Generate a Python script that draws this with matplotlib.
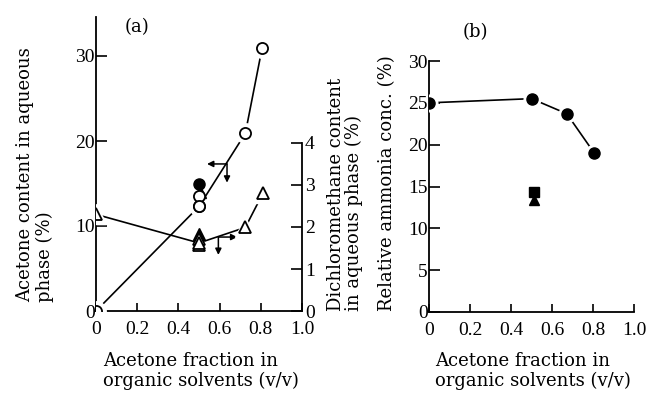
import matplotlib
matplotlib.use("Agg")
import matplotlib.pyplot as plt

# panel (a): acetone content (left axis, %)
ace_line_x = [0.0, 0.5, 0.725, 0.806]
ace_line_y = [0.0, 12.3, 20.9, 30.9]
ace_open_x = [0.5]
ace_open_y = [13.5]
ace_fill_x = [0.5]
ace_fill_y = [15.0]
ace_tri_fill_x = [0.505]
ace_tri_fill_y = [14.0]

# panel (a): dichloromethane content (right axis, %)
dcm_line_x = [0.0, 0.5, 0.725, 0.81]
dcm_line_y = [2.3, 1.62, 1.99, 2.8]
dcm_open_x = [0.5, 0.5]
dcm_open_y = [1.56, 1.72]
dcm_fill_x = [0.5]
dcm_fill_y = [1.83]

# panel (b): relative ammonia conc. (%)
nh3_x = [0.0, 0.5, 0.672, 0.806]
nh3_y = [25.0, 25.5, 23.7, 19.0]
sq_x = [0.51]
sq_y = [14.4]
tri_x = [0.51]
tri_y = [13.4]

x_ticks = [0, 0.2, 0.4, 0.6, 0.8, 1.0]
x_labels = ["0", "0.2", "0.4", "0.6", "0.8", "1.0"]

W, H = 647, 396
fig = plt.figure(figsize=(W / 100, H / 100), dpi=100)

lab_font = dict(family="DejaVu Serif", size=13)
tick_font = "Liberation Serif"
tick_size = 14


def px(x, y):
    return x / W, 1 - y / H


def fix_ticklabels(ax):
    for lb in ax.get_xticklabels() + ax.get_yticklabels():
        lb.set_family(tick_font)
        lb.set_fontsize(tick_size)


def style_axes(ax):
    for s in ["top", "right"]:
        ax.spines[s].set_visible(False)
    for s in ax.spines.values():
        s.set_linewidth(1.3)
    ax.set_xlim(0, 1.0)
    ax.set_xticks(x_ticks)
    ax.set_xticklabels(x_labels)
    ax.tick_params(axis="x", direction="in", length=6, width=1.2, pad=7)
    ax.tick_params(axis="y", direction="in", length=8, width=1.2, pad=1)
    fix_ticklabels(ax)


def halo(ax, x, y, marker, size, **kw):
    ax.plot(x, y, marker, ms=size + 6, mfc="white", mec="white", ls="none", zorder=3, **kw)


# ---------- (a) ----------
ax = fig.add_axes([96 / W, 1 - 311 / H, 206 / W, 294 / H])
ax.set_ylim(0, 294 / 8.5)
ax.set_yticks([0, 10, 20, 30])
style_axes(ax)

ax2 = ax.twinx()
ax2.set_ylim(0, 294 / 42.0)
ax2.set_yticks([0, 1, 2, 3, 4])
for s in ["top", "left", "bottom"]:
    ax2.spines[s].set_visible(False)
ax2.spines["right"].set_bounds(0, 4)
ax2.spines["right"].set_linewidth(1.3)
ax2.tick_params(axis="y", direction="in", length=8, width=1.2, pad=2)
fix_ticklabels(ax2)
# lift the right-axis "0" slightly so it clears the "1.0" below
ax2.get_yticklabels()[0].set_verticalalignment("center_baseline")

ms = 8
ax.plot(ace_line_x, ace_line_y, "-", color="black", lw=1.2, zorder=2)
ax2.plot(dcm_line_x, dcm_line_y, "-", color="black", lw=1.2, zorder=2)
halo(ax, ace_line_x, ace_line_y, "o", ms)
halo(ax2, dcm_line_x, dcm_line_y, "^", ms)
ax.plot(ace_line_x, ace_line_y, "o", ms=ms, mfc="white", mec="black", mew=1.3, ls="none", zorder=4)
ax.plot(ace_fill_x, ace_fill_y, "o", ms=ms, mfc="black", mec="black", ls="none", zorder=4)
ax.plot(ace_tri_fill_x, ace_tri_fill_y, "^", ms=ms, mfc="black", mec="black", ls="none", zorder=4)
ax.plot(ace_open_x, ace_open_y, "o", ms=ms, mfc="white", mec="black", mew=1.3, ls="none", zorder=5)
ax.plot(ace_line_x[1:2], ace_line_y[1:2], "o", ms=ms, mfc="white", mec="black", mew=1.3, ls="none", zorder=5)

ax2.plot(dcm_fill_x, dcm_fill_y, "^", ms=ms, mfc="black", mec="black", ls="none", zorder=4)
ax2.plot(dcm_open_x, dcm_open_y, "^", ms=ms, mfc="white", mec="black", mew=1.3, ls="none", zorder=5)
ax2.plot(dcm_line_x, dcm_line_y, "^", ms=ms, mfc="white", mec="black", mew=1.3, ls="none", zorder=5)

arr = dict(arrowstyle="-|>", color="black", lw=1.1, mutation_scale=9, shrinkA=0, shrinkB=0)
# arrow pair pointing to the left axis (circles)
ax.annotate("", xy=(0.539, 17.3), xytext=(0.636, 17.3), arrowprops=arr, zorder=6)
ax.annotate("", xy=(0.636, 15.1), xytext=(0.636, 17.3), arrowprops=arr, zorder=6)
# arrow pair pointing to the right axis (triangles)
ax.annotate("", xy=(0.686, 8.7), xytext=(0.594, 8.7), arrowprops=arr, zorder=6)
ax.annotate("", xy=(0.594, 6.6), xytext=(0.594, 8.7), arrowprops=arr, zorder=6)

fig.text(*px(137, 27), "(a)", ha="center", va="center", **lab_font)
fig.text(*px(35, 302), "Acetone content in aqueous\nphase (%)", rotation=90,
         ha="center", va="bottom", multialignment="left", linespacing=1.1, **lab_font)
fig.text(*px(345, 311), "Dichloromethane content\nin aqueous phase (%)", rotation=90,
         ha="center", va="bottom", multialignment="left", linespacing=0.95, **lab_font)
fig.text(*px(103, 371), "Acetone fraction in\norganic solvents (v/v)",
         ha="left", va="center", multialignment="left", linespacing=1.1, **lab_font)

# ---------- (b) ----------
bx = fig.add_axes([429 / W, 1 - 312 / H, 205 / W, 251 / H])
bx.set_ylim(0, 30)
bx.set_yticks([0, 5, 10, 15, 20, 25, 30])
style_axes(bx)

bx.plot(nh3_x, nh3_y, "-", color="black", lw=1.2, zorder=2)
bx.plot(nh3_x, nh3_y, "o", ms=ms + 4, mfc="white", mec="white", ls="none", zorder=3)
bx.plot(nh3_x, nh3_y, "o", ms=ms, mfc="black", mec="black", ls="none", zorder=4)
bx.plot(sq_x, sq_y, "s", ms=ms - 0.5, mfc="black", mec="black", ls="none", zorder=4)
bx.plot(tri_x, tri_y, "^", ms=ms - 0.5, mfc="black", mec="black", ls="none", zorder=4)

fig.text(*px(475, 32), "(b)", ha="center", va="center", **lab_font)
fig.text(*px(387, 311), "Relative ammonia conc. (%)", rotation=90,
         ha="center", va="bottom", **lab_font)
fig.text(*px(435, 371), "Acetone fraction in\norganic solvents (v/v)",
         ha="left", va="center", multialignment="left", linespacing=1.1, **lab_font)

fig.savefig("out.png", dpi=100)
